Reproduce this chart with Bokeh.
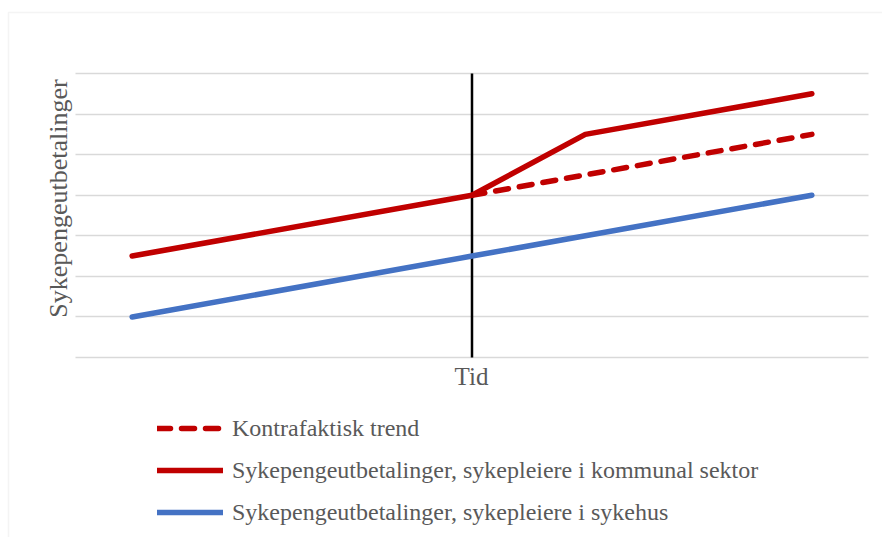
import math
from bokeh.plotting import figure
from bokeh.models import (Legend, LegendItem, Label, FixedTicker, BoxAnnotation)
from bokeh.embed import file_html
from bokeh.resources import INLINE

# Data (category index along time axis; 7 time points)
time_points = [0, 1, 2, 3, 4, 5, 6]
intervention_x = 3
kommunal_x = [0, 3, 4, 6]
kommunal_y = [2.5, 4.0, 5.5, 6.5]
kontra_x = [3, 6]
kontra_y = [4.0, 5.5]
sykehus_x = [0, 3, 6]
sykehus_y = [1.0, 2.5, 4.0]
y_ticks = [0, 1, 2, 3, 4, 5, 6, 7]

labels = ["Kontrafaktisk trend",
          "Sykepengeutbetalinger, sykepleiere i kommunal sektor",
          "Sykepengeutbetalinger, sykepleiere i sykehus"]

RED = "#c00000"
BLUE = "#4472c4"
GRID = "#d9d9d9"
TXT = "#595959"
FONT = "Liberation Serif"
LW = 5.5

W, H = 882, 537
# plot area in pixels
PL, PR, PT, PB = 75, 868, 73, 357
xmin, xmax = time_points[0] - 0.5, time_points[-1] + 0.5
ymin, ymax = y_ticks[0], y_ticks[-1]
sx = (PR - PL) / (xmax - xmin)
sy = (PB - PT) / (ymax - ymin)
x_range = (xmin - PL / sx, xmax + (W - PR) / sx)
y_range = (ymin - (H - PB) / sy, ymax + PT / sy)

p = figure(width=W, height=H, output_backend="svg", toolbar_location=None,
           x_range=x_range, y_range=y_range, min_border=0)
p.xaxis.visible = False
p.yaxis.visible = False
p.outline_line_color = None
p.xgrid.visible = False
p.ygrid.ticker = FixedTicker(ticks=y_ticks)
p.ygrid.grid_line_color = GRID
p.ygrid.grid_line_width = 1.5
p.ygrid.cross_bounds = (xmin, xmax)

p.segment(x0=[intervention_x], y0=[ymin], x1=[intervention_x], y1=[ymax],
          line_color="#000000", line_width=2.5)

r_sykehus = p.line(sykehus_x, sykehus_y, line_color=BLUE, line_width=LW, line_cap="round", line_join="round")
r_kommunal = p.line(kommunal_x, kommunal_y, line_color=RED, line_width=LW, line_cap="round", line_join="round")
r_kontra = p.line(kontra_x, kontra_y, line_color=RED, line_width=LW, line_cap="round", line_dash="13 11")

legend = Legend(items=[LegendItem(label=labels[0], renderers=[r_kontra]),
                       LegendItem(label=labels[1], renderers=[r_kommunal]),
                       LegendItem(label=labels[2], renderers=[r_sykehus])],
                location=(157, 4), orientation="vertical",
                glyph_width=66, glyph_height=42, label_height=42, spacing=0,
                padding=0, margin=0, label_standoff=9,
                border_line_color=None, background_fill_alpha=0,
                label_text_font=FONT, label_text_font_size="24px", label_text_color=TXT)
p.add_layout(legend)

p.add_layout(Label(x=471, y=H - 376, x_units="screen", y_units="screen", text="Tid",
                   text_font=FONT, text_font_size="25px", text_color=TXT,
                   text_align="center", text_baseline="middle"))
p.add_layout(Label(x=58, y=H - 198, x_units="screen", y_units="screen", text="Sykepengeutbetalinger",
                   angle=math.pi / 2, text_font=FONT, text_font_size="26px", text_color=TXT,
                   text_align="center", text_baseline="middle"))

p.add_layout(BoxAnnotation(left=8, right=W + 20, top=H - 12, bottom=-20,
                           left_units="screen", right_units="screen",
                           top_units="screen", bottom_units="screen",
                           fill_alpha=0, line_color=GRID, line_width=1.5, level="underlay"))

open("out.html", "w").write(file_html(p, INLINE))
